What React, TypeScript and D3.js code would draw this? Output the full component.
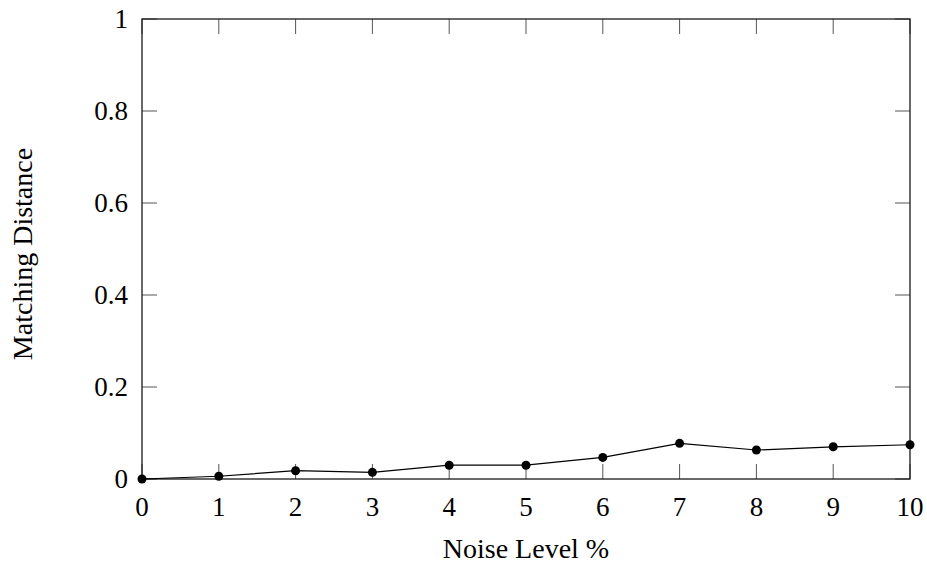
import React, { useEffect, useRef } from 'react';
import * as d3 from 'd3';

// noise level (%) on x, matching distance on y
const noiseLevels = [0, 1, 2, 3, 4, 5, 6, 7, 8, 9, 10];
const distances = [0, 0.006, 0.018, 0.0145, 0.03, 0.03, 0.047, 0.0775, 0.063, 0.07, 0.0745];
const xTicks = [0, 1, 2, 3, 4, 5, 6, 7, 8, 9, 10];
const yTicks = [0, 0.2, 0.4, 0.6, 0.8, 1];

const W = 927;
const H = 565;
const left = 142, right = 910, top = 19, bottom = 479;
const tickLen = 15;
const font = '"Liberation Serif", "Times New Roman", serif';

export default function App() {
  const ref = useRef<SVGSVGElement>(null);

  useEffect(() => {
    const svg = d3.select(ref.current);
    svg.selectAll('*').remove();

    const x = d3.scaleLinear().domain([0, 10]).range([left, right]);
    const y = d3.scaleLinear().domain([0, 1]).range([bottom, top]);

    const g = svg.append('g');

    // ticks, mirrored on all four sides, pointing inward
    g.selectAll('.xt-b')
      .data(xTicks)
      .join('line')
      .attr('x1', d => x(d)).attr('x2', d => x(d))
      .attr('y1', bottom).attr('y2', bottom - tickLen)
      .attr('stroke', '#555').attr('stroke-width', 1);
    g.selectAll('.xt-t')
      .data(xTicks)
      .join('line')
      .attr('x1', d => x(d)).attr('x2', d => x(d))
      .attr('y1', top).attr('y2', top + tickLen)
      .attr('stroke', '#555').attr('stroke-width', 1);
    g.selectAll('.yt-l')
      .data(yTicks)
      .join('line')
      .attr('x1', left).attr('x2', left + tickLen)
      .attr('y1', d => y(d)).attr('y2', d => y(d))
      .attr('stroke', '#555').attr('stroke-width', 1);
    g.selectAll('.yt-r')
      .data(yTicks)
      .join('line')
      .attr('x1', right).attr('x2', right - tickLen)
      .attr('y1', d => y(d)).attr('y2', d => y(d))
      .attr('stroke', '#555').attr('stroke-width', 1);

    // frame
    g.append('rect')
      .attr('x', left).attr('y', top)
      .attr('width', right - left).attr('height', bottom - top)
      .attr('fill', 'none').attr('stroke', '#1a1a1a').attr('stroke-width', 1.3);

    // tick labels
    g.selectAll('.xl')
      .data(xTicks)
      .join('text')
      .attr('x', d => x(d)).attr('y', 516)
      .attr('text-anchor', 'middle')
      .style('font-family', font).style('font-size', '27px')
      .text(d => String(d));
    g.selectAll('.yl')
      .data(yTicks)
      .join('text')
      .attr('x', 128).attr('y', d => y(d) + 9)
      .attr('text-anchor', 'end')
      .style('font-family', font).style('font-size', '27px')
      .text(d => String(d));

    // axis titles
    g.append('text')
      .attr('x', (left + right) / 2).attr('y', 558)
      .attr('text-anchor', 'middle')
      .style('font-family', font).style('font-size', '28px')
      .text('Noise Level %');
    g.append('text')
      .attr('transform', `translate(32, ${(top + bottom) / 2 + 5}) rotate(-90)`)
      .attr('text-anchor', 'middle')
      .style('font-family', font).style('font-size', '28px')
      .text('Matching Distance');

    // series
    const pts = noiseLevels.map((n, i) => [n, distances[i]] as [number, number]);
    const line = d3.line<[number, number]>().x(d => x(d[0])).y(d => y(d[1]));
    g.append('path')
      .attr('d', line(pts))
      .attr('fill', 'none').attr('stroke', '#000').attr('stroke-width', 1.2);
    g.selectAll('.pt')
      .data(pts)
      .join('circle')
      .attr('cx', d => x(d[0])).attr('cy', d => y(d[1]))
      .attr('r', 4.5).attr('fill', '#000');
  }, []);

  return (
    <svg ref={ref} width={W} height={H} style={{ position: 'absolute', left: 0, top: 0 }} />
  );
}
